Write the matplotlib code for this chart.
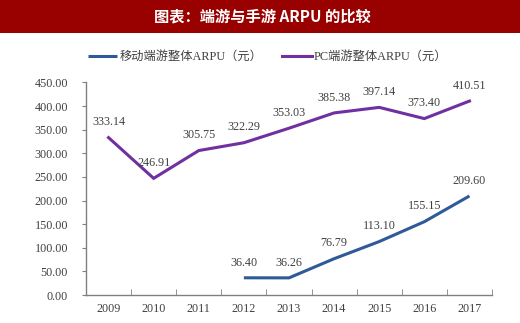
import matplotlib
matplotlib.use("Agg")
import matplotlib.pyplot as plt
from matplotlib.patches import Rectangle

years = ["2009", "2010", "2011", "2012", "2013", "2014", "2015", "2016", "2017"]
mobile_years = ["2012", "2013", "2014", "2015", "2016", "2017"]
mobile_arpu = [36.40, 36.26, 76.79, 113.10, 155.15, 209.60]
pc_arpu = [333.14, 246.91, 305.75, 322.29, 353.03, 385.38, 397.14, 373.40, 410.51]
title = "图表：端游与手游 ARPU 的比较"
mobile_label = "移动端游整体ARPU（元）"
pc_label = "PC端游整体ARPU（元）"
yticks = [0, 50, 100, 150, 200, 250, 300, 350, 400, 450]

blue = "#2E5A98"
purple = "#7030A0"
txt = "#404040"
serif = ["Liberation Serif", "Noto Sans CJK SC"]

fig = plt.figure(figsize=(5.2, 3.23), dpi=100)
fig.patch.set_facecolor("white")
fig.add_artist(Rectangle((0, 1 - 33 / 323), 1, 33 / 323, transform=fig.transFigure,
                         facecolor="#990000", edgecolor="none", zorder=0))
fig.text(0.505, 1 - 16.5 / 323, title, color="white", fontsize=11, fontweight="bold",
         family=["Noto Sans CJK SC", "DejaVu Sans"], ha="center", va="center")

ax = fig.add_axes([86 / 520, 1 - 295 / 323, 406 / 520, (295 - 82.4) / 323])
x_all = list(range(len(years)))
x_mob = [years.index(y) for y in mobile_years]
l1, = ax.plot(x_mob, mobile_arpu, color=blue, lw=2.2, solid_capstyle="butt", label=mobile_label)
l2, = ax.plot(x_all, pc_arpu, color=purple, lw=2.2, solid_joinstyle="miter", label=pc_label)

for xi, v in zip(x_mob, mobile_arpu):
    ax.annotate(f"{v:.2f}", (xi, v), xytext=(0, 11), textcoords="offset points",
                ha="center", va="center", fontsize=8.7, color=txt, family=serif)
for xi, v in zip(x_all, pc_arpu):
    ax.annotate(f"{v:.2f}", (xi, v), xytext=(0, 11), textcoords="offset points",
                ha="center", va="center", fontsize=8.7, color=txt, family=serif)

ax.set_xlim(-0.5, len(years) - 0.5)
ax.set_ylim(0, 450)
ax.set_yticks(yticks)
ax.set_yticklabels([f"{t:.2f}" for t in yticks], fontsize=8.7, color=txt, family=serif)
ax.set_xticks(x_all)
ax.set_xticklabels(years, fontsize=8.7, color=txt, family=serif)
ax.set_xticks([i + 0.5 for i in range(-1, len(years))], minor=True)
ax.tick_params(axis="x", which="major", length=0, pad=6)
ax.tick_params(axis="x", which="minor", length=4, direction="in", color="#808080")
ax.tick_params(axis="y", length=3, direction="out", color="#808080", pad=10)
for s in ["top", "right"]:
    ax.spines[s].set_visible(False)
for s in ["left", "bottom"]:
    ax.spines[s].set_color("#808080")
    ax.spines[s].set_linewidth(1)

fig.legend(handles=[l1, l2], loc="center", bbox_to_anchor=(0.515, 1 - 57 / 323),
           ncol=2, frameon=False, handlelength=2.4, handletextpad=0.2,
           columnspacing=1.6, prop={"family": serif, "size": 8.8}, labelcolor=txt)

fig.savefig("out.png", dpi=100)
